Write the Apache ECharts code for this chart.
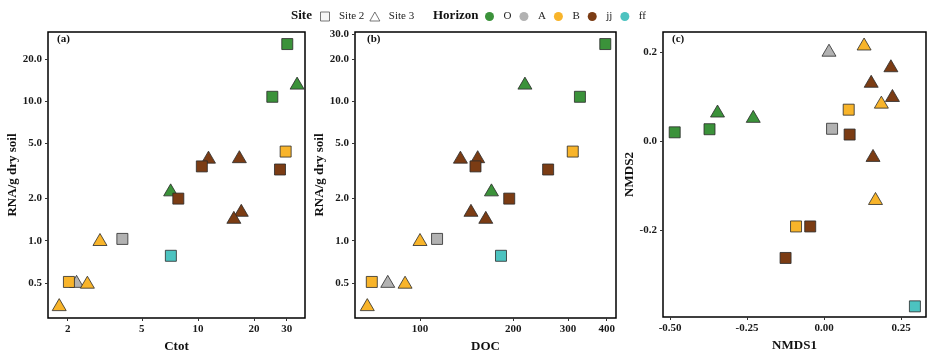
<!DOCTYPE html>
<html><head><meta charset="utf-8">
<script src="https://cdn.jsdelivr.net/npm/echarts@6/dist/echarts.min.js"></script>
<style>html,body{margin:0;padding:0;background:#fff}#c{width:929px;height:350px}</style>
</head><body><div id="c"></div>
<script>
// ---------- data ----------
const horizons = ['O', 'A', 'B', 'jj', 'ff'];
const horizonColors = ['#3b923a', '#b2b2b2', '#f8b42a', '#7b3c14', '#4cc3c0'];
const sites = ['Site 2', 'Site 3'];

// panels (a) and (b): one entry per sample
const sampleSite = ['Site 2','Site 3','Site 2','Site 2','Site 2','Site 3','Site 3','Site 2','Site 3','Site 2','Site 3','Site 3','Site 3','Site 2','Site 2','Site 2','Site 3','Site 3','Site 3'];
const sampleHorizon = ['O','O','O','B','jj','jj','jj','jj','O','jj','jj','jj','B','A','ff','B','A','B','B'];
const ctot = [30.2, 34.1, 25.1, 29.6, 27.6, 11.4, 16.7, 10.5, 7.14, 7.85, 17.1, 15.6, 2.98, 3.93, 7.16, 2.03, 2.23, 2.55, 1.80];
const doc  = [396, 218, 328, 311, 259, 135, 153.5, 151, 170, 194, 146, 163, 100, 113.5, 182.5, 69.9, 78.7, 89.5, 67.6];
const rna  = [25.5, 13.4, 10.7, 4.34, 3.23, 3.96, 3.99, 3.4, 2.31, 2.0, 1.65, 1.47, 1.02, 1.03, 0.78, 0.507, 0.512, 0.505, 0.349];

// panel (c): NMDS ordination
const nmdsSite = ['Site 3','Site 3','Site 3','Site 3','Site 3','Site 3','Site 3','Site 3','Site 2','Site 2','Site 2','Site 2','Site 2','Site 3','Site 3','Site 2','Site 2','Site 2','Site 2'];
const nmdsHorizon = ['A','B','jj','jj','jj','B','O','O','B','A','jj','O','O','jj','B','B','jj','jj','ff'];
const nmds1 = [0.016, 0.130, 0.217, 0.153, 0.222, 0.186, -0.346, -0.230, 0.080, 0.026, 0.083, -0.485, -0.372, 0.159, 0.167, -0.091, -0.045, -0.125, 0.295];
const nmds2 = [0.205, 0.219, 0.170, 0.135, 0.103, 0.088, 0.068, 0.056, 0.071, 0.028, 0.015, 0.020, 0.027, -0.032, -0.129, -0.192, -0.192, -0.263, -0.372];

// axis ticks and ranges
const rnaTicksA = [0.5, 1, 2, 5, 10, 20];
const rnaTicksB = [0.5, 1, 2, 5, 10, 20, 30];
const ctotTicks = [2, 5, 10, 20, 30];
const docTicks = [100, 200, 300, 400];
const nmds1Ticks = [-0.5, -0.25, 0, 0.25];
const nmds2Ticks = [-0.2, 0, 0.2];
const rnaRange = [0.28, 31.1];
const ctotRange = [1.567, 37.6];
const docRange = [61.7, 428.8];
const nmds1Range = [-0.523, 0.331];
const nmds2Range = [-0.396, 0.246];

// ---------- chart ----------
const F = '"Liberation Serif", "Times New Roman", serif';
const lg = Math.log10;

function mkAxis(gridIndex, range, ticks, isLog, fmt, name, nameGap, margin) {
  const tv = isLog ? ticks.map(lg) : ticks;
  return {
    type: 'value', gridIndex,
    min: isLog ? lg(range[0]) : range[0],
    max: isLog ? lg(range[1]) : range[1],
    name, nameLocation: 'middle', nameGap,
    nameTextStyle: { fontFamily: F, fontWeight: 'bold', fontSize: 13, color: '#111' },
    axisLine: { show: false, onZero: false },
    splitLine: { show: false },
    axisTick: { show: true, length: 3, customValues: tv, lineStyle: { color: '#333', width: 1 } },
    axisLabel: {
      customValues: tv,
      formatter: v => fmt(isLog ? Math.pow(10, v) : v),
      fontFamily: F, fontWeight: 'bold', fontSize: 11, color: '#1a1a1a', margin
    }
  };
}

const grids = [
  { left: 48, top: 32, width: 257, height: 286 },
  { left: 355, top: 32, width: 261, height: 286 },
  { left: 663, top: 32, width: 263, height: 285 }
].map(g => Object.assign(g, { show: true, borderColor: '#000', borderWidth: 1.5, backgroundColor: 'transparent', containLabel: false, outerBoundsMode: 'none' }));

const xAxes = [
  mkAxis(0, ctotRange, ctotTicks, true, v => String(Math.round(v)), 'Ctot', 16, 6),
  mkAxis(1, docRange, docTicks, true, v => String(Math.round(v)), 'DOC', 16, 6),
  mkAxis(2, nmds1Range, nmds1Ticks, false, v => v.toFixed(2), 'NMDS1', 16, 6)
];
const yAxes = [
  mkAxis(0, rnaRange, rnaTicksA, true, v => v.toFixed(1), 'RNA/g dry soil', 28, 6),
  mkAxis(1, rnaRange, rnaTicksB, true, v => v.toFixed(1), 'RNA/g dry soil', 28, 6),
  mkAxis(2, nmds2Range, nmds2Ticks, false, v => v.toFixed(1), 'NMDS2', 26, 6)
];

const symOf = s => s === 'Site 2' ? 'rect' : 'triangle';
const sizeOf = s => s === 'Site 2' ? [11, 11] : [14, 12];

const series = [];
function addPanel(idx, xs, ys, siteArr, horArr, isLog) {
  horizons.forEach((h, hi) => {
    const data = [];
    for (let i = 0; i < xs.length; i++) {
      if (horArr[i] !== h) continue;
      data.push([isLog ? lg(xs[i]) : xs[i], isLog ? lg(ys[i]) : ys[i], siteArr[i]]);
    }
    series.push({
      type: 'scatter', name: h, xAxisIndex: idx, yAxisIndex: idx,
      data,
      symbol: v => symOf(v[2]),
      symbolSize: v => sizeOf(v[2]),
      itemStyle: { color: horizonColors[hi], borderColor: '#2a2a2a', borderWidth: 0.8, opacity: 1 },
      emphasis: { disabled: true },
      z: 3
    });
  });
}
addPanel(0, ctot, rna, sampleSite, sampleHorizon, true);
addPanel(1, doc, rna, sampleSite, sampleHorizon, true);
addPanel(2, nmds1, nmds2, nmdsSite, nmdsHorizon, false);
// legend-only series for site shapes
sites.forEach(s => series.push({ type: 'scatter', name: s, xAxisIndex: 0, yAxisIndex: 0, data: [],
  itemStyle: { color: '#fff', borderColor: '#666', borderWidth: 1 } }));

const legText = { fontFamily: F, fontSize: 11, color: '#222' };
const option = {
  animation: false,
  grid: grids,
  xAxis: xAxes,
  yAxis: yAxes,
  legend: [
    {
      left: 315, top: 6, itemWidth: 18, itemHeight: 9, itemGap: 5, textStyle: legText,
      selectedMode: false,
      data: [
        { name: 'Site 2', icon: 'path://M0,0H10V10H0Z', itemStyle: { color: '#f4f4f4', borderColor: '#555', borderWidth: 1 } },
        { name: 'Site 3', icon: 'path://M5,0L10,9H0Z', itemStyle: { color: '#fff', borderColor: '#555', borderWidth: 1 } }
      ]
    },
    {
      left: 480, top: 6, itemWidth: 18, itemHeight: 9, itemGap: 8, textStyle: legText,
      selectedMode: false,
      data: horizons.map((h, i) => ({ name: h, icon: 'circle', itemStyle: { color: horizonColors[i], borderWidth: 0 } }))
    }
  ],
  graphic: [
    { type: 'text', left: 291, top: 9, style: { text: 'Site', fontFamily: F, fontWeight: 'bold', fontSize: 13, fill: '#111' } },
    { type: 'text', left: 433, top: 9, style: { text: 'Horizon', fontFamily: F, fontWeight: 'bold', fontSize: 13, fill: '#111' } },
    { type: 'text', left: 57, top: 34, style: { text: '(a)', fontFamily: F, fontWeight: 'bold', fontSize: 11, fill: '#111' } },
    { type: 'text', left: 367, top: 34, style: { text: '(b)', fontFamily: F, fontWeight: 'bold', fontSize: 11, fill: '#111' } },
    { type: 'text', left: 672, top: 34, style: { text: '(c)', fontFamily: F, fontWeight: 'bold', fontSize: 11, fill: '#111' } }
  ],
  series
};
const chart = echarts.init(document.getElementById('c'), null, { renderer: 'canvas' });
chart.setOption(option);
</script>
</body></html>
